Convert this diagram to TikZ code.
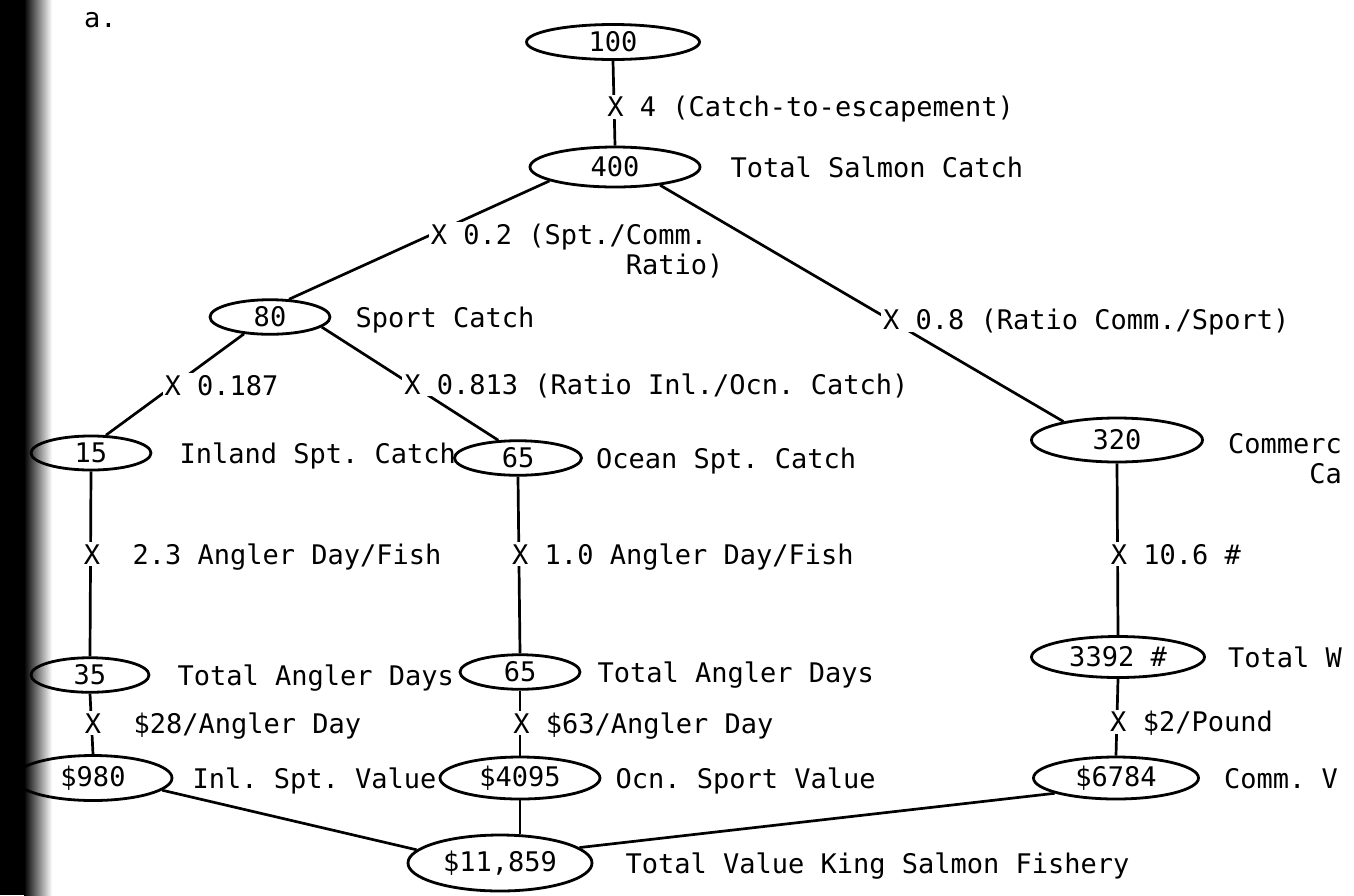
\documentclass[tikz,border=0pt]{standalone}
\usepackage{fontspec}
\newfontfamily\typewr{DejaVu Sans Mono}
\usetikzlibrary{shapes.geometric, positioning}
\tikzset{
  tw/.style={font=\typewr\fontsize{27pt}{30pt}\selectfont\frenchspacing, inner sep=2pt},
  onerow/.style={text height=20pt, text depth=0pt},
  valnode/.style={ellipse, draw, line width=2.8pt, inner sep=0pt, tw},
  namelab/.style={tw, onerow},
  factor/.style={tw, onerow, fill=white, anchor=west, xshift=-10pt},
  factorwide/.style={tw, fill=white, align=left, anchor=north west, xshift=-10pt},
  link/.style={line width=2.7pt},
}

\begin{document}
\begin{tikzpicture}[x=1pt, y=-1pt]
  \useasboundingbox (0,0) rectangle (1354,895);
  % dark margin of the scanned sheet
  \fill[black] (0,0) rectangle (24,895);
  \shade[left color=black, right color=white] (24,0) rectangle (52,895);

  \node[namelab, anchor=base west] (panel) at (82,27) {a.};

  % escapement and total catch
  \node[valnode, minimum width=173pt, minimum height=35pt] (esc)   at (613,42)  {100};
  \node[valnode, minimum width=170pt, minimum height=40pt] (total) at (615,167) {400};
  \node[namelab, right=27pt of total] (totallab) {Total Salmon Catch};

  % sport branch
  \node[valnode, minimum width=120pt, minimum height=33pt] (sport) at (270,317) {80};
  \node[namelab, right=22pt of sport] (sportlab) {Sport Catch};
  \node[valnode, minimum width=120pt, minimum height=33pt] (inl)   at (91,453)  {15};
  \node[namelab, right=25pt of inl] (inllab) {Inland Spt. Catch};
  \node[valnode, minimum width=127pt, minimum height=33pt] (ocn)   at (518,458) {65};
  \node[namelab, right=11pt of ocn] (ocnlab) {Ocean Spt. Catch};

  % commercial branch
  \node[valnode, minimum width=171pt, minimum height=44pt] (comm) at (1117,440) {320};
  \node[tw, align=left, anchor=north west] (commlab)
    at ([xshift=22pt, yshift=9pt]comm.east) {Commerc\\\phantom{Comme}Ca};

  % angler days and weight
  \node[valnode, minimum width=118pt, minimum height=30pt] (inldays) at (90,675)   {35};
  \node[namelab, right=25pt of inldays] (inldayslab) {Total Angler Days};
  \node[valnode, minimum width=120pt, minimum height=30pt] (ocndays) at (520,672)  {65};
  \node[namelab, right=14pt of ocndays] (ocndayslab) {Total Angler Days};
  \node[valnode, minimum width=173pt, minimum height=41pt] (wt)      at (1118,657) {3392 \#};
  \node[namelab, right=20pt of wt] (wtlab) {Total W};

  % dollar values
  \node[valnode, minimum width=158pt, minimum height=45pt] (inlval)  at (93,778)   {\$980};
  \node[namelab, right=17pt of inlval] (inlvallab) {Inl. Spt. Value};
  \node[valnode, minimum width=160pt, minimum height=42pt] (ocnval)  at (520,778)  {\$4095};
  \node[namelab, right=12pt of ocnval] (ocnvallab) {Ocn. Sport Value};
  \node[valnode, minimum width=165pt, minimum height=42pt] (commval) at (1116,778) {\$6784};
  \node[namelab, right=22pt of commval] (commvallab) {Comm. V};
  \node[valnode, minimum width=184pt, minimum height=56pt] (grand)   at (500,863)  {\$11,859};
  \node[namelab, right=30pt of grand] (grandlab) {Total Value King Salmon Fishery};

  % links with their multipliers
  \draw[link] (esc.south) -- node[factor, pos=0.544] (f1) {X 4 (Catch-to-escapement)} (total.north);
  \draw[link] (total.192) -- node[factorwide, pos=0.43, yshift=11pt] (f2)
    {X 0.2 (Spt./Comm.\\\phantom{X 0.2 (Spt./}Ratio)} (sport.43);
  \draw[link] (total.338) -- node[factor, pos=0.569] (f3) {X 0.8 (Ratio Comm./Sport)} (comm.161);
  \draw[link] (sport.213) -- node[factor, pos=0.505, xshift=-3pt] (f4) {X 0.187} (inl.50);
  \draw[link] (sport.349) -- node[factor, pos=0.506] (f5) {X 0.813 (Ratio Inl./Ocn. Catch)} (ocn.138);
  \draw[link] (inl.south) -- node[factor, pos=0.448] (f6) {X~~2.3 Angler Day/Fish} (inldays.north);
  \draw[link] (ocn.south) -- node[factor, pos=0.44] (f7) {X 1.0 Angler Day/Fish} (ocndays.north);
  \draw[link] (comm.south) -- node[factor, pos=0.528] (f8) {X 10.6 \#} (wt.north);
  \draw[link] (inldays.south) -- node[factor, pos=0.488] (f9) {X~~\$28/Angler Day} (inlval.north);
  \draw[link] (ocndays.south) -- node[factor, pos=0.5] (f10) {X \$63/Angler Day} (ocnval.north);
  \draw[link] (wt.south) -- node[factor, pos=0.56] (f11) {X \$2/Pound} (commval.north);

  % sum of the three values
  \draw[link] (inlval.350) -- (grand.171);
  \draw[link] (ocnval.south) -- (ocnval.south |- grand.north);
  \draw[link] (commval.194) -- (grand.11);
\end{tikzpicture}
\end{document}
